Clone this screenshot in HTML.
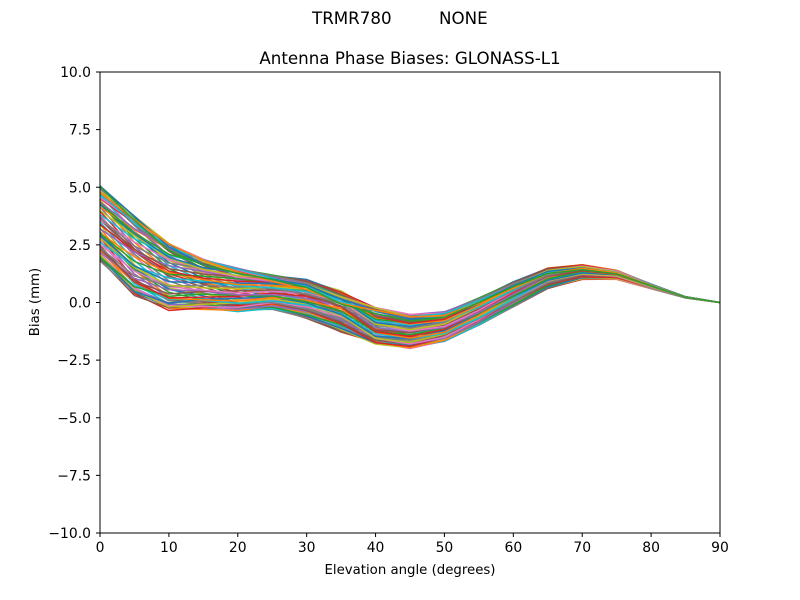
<!DOCTYPE html>
<html><head><meta charset="utf-8"><style>
body{margin:0;background:#fff;}
svg{display:block;font-family:"DejaVu Sans","Liberation Sans",sans-serif;}
</style></head><body>
<svg id="s" width="800" height="600" xmlns="http://www.w3.org/2000/svg">
<rect width="800" height="600" fill="#fff"/>
<text x="312" y="24" font-size="16.7">TRMR780</text>
<text x="439" y="24" font-size="16.7">NONE</text>
<text x="410" y="64" font-size="16.7" text-anchor="middle">Antenna Phase Biases: GLONASS-L1</text>
<g id="lines" clip-path="url(#c)"></g>
<clipPath id="c"><rect x="100" y="72" width="620" height="461"/></clipPath>
<rect x="100" y="72" width="620" height="461" fill="none" stroke="#000" stroke-width="1"/>
<g id="ticks" font-size="13.9"></g>
<text x="410" y="574" font-size="13.3" text-anchor="middle">Elevation angle (degrees)</text>
<text transform="translate(39,302) rotate(-90)" font-size="13.3" text-anchor="middle">Bias (mm)</text>
</svg>
<script>
var X=function(e){return 100+e*620/90;},Y=function(v){return 302.5-v*23.05;};
var t=document.getElementById('ticks'),h='';
for(var e=0;e<=90;e+=10){h+='<line x1="'+X(e)+'" x2="'+X(e)+'" y1="533" y2="537" stroke="#000"/><text x="'+X(e)+'" y="552" text-anchor="middle">'+e+'</text>';}
for(var v=-10;v<=10;v+=2.5){h+='<line x1="96" x2="100" y1="'+Y(v)+'" y2="'+Y(v)+'" stroke="#000"/><text x="91" y="'+(Y(v)+5)+'" text-anchor="end">'+v.toFixed(1).replace('-','\u2212')+'</text>';}
t.innerHTML=h;
var lo=[1.8,0.3,-0.35,-0.3,-0.4,-0.3,-0.7,-1.3,-1.8,-2.0,-1.7,-1.0,-0.2,0.6,1.0,1.0,0.6,0.2,0];
var hi=[5.1,3.8,2.6,1.9,1.5,1.2,1.0,0.5,-0.2,-0.5,-0.4,0.2,0.9,1.5,1.65,1.4,0.8,0.25,0];
var cols=['#1f77b4','#ff7f0e','#2ca02c','#d62728','#9467bd','#8c564b','#e377c2','#7f7f7f','#bcbd22','#17becf'];
var g='',N=73;
for(var i=0;i<N;i++){var a=i/N*2*Math.PI,d='';
for(var k=0;k<19;k++){var el=k*5,w=0.5+0.5*Math.cos(a+el*0.035*(k<8?1:0.5))*(0.9)+0.05*Math.sin(i*3.7+k);
w=Math.max(0,Math.min(1,w));var v=lo[k]+(hi[k]-lo[k])*w;d+=(k?'L':'M')+X(el).toFixed(1)+' '+Y(v).toFixed(1);}
g+='<path d="'+d+'" fill="none" stroke="'+cols[i%10]+'" stroke-width="1.5"/>';}
document.getElementById('lines').innerHTML=g;
</script>
</body></html>
